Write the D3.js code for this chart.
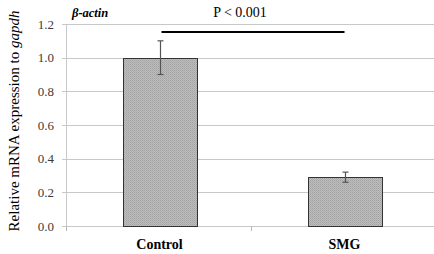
<!DOCTYPE html>
<html lang="en">
<head>
<meta charset="utf-8">
<title>beta-actin relative expression</title>
<script src="https://d3js.org/d3.v7.min.js"></script>
<style>
    body { margin: 0; background: #fff; }
</style>
</head>
<body>
<div id="chart"></div>
<script>
    const categories = ["Control", "SMG"];
    const values = [1.0, 0.29];
    const errors = [0.1, 0.03];
    const yTicks = [0.0, 0.2, 0.4, 0.6, 0.8, 1.0, 1.2];

    const width = 434, height = 254;
    const svg = d3.select("#chart").append("svg")
        .attr("width", width)
        .attr("height", height)
        .attr("font-family", "'Liberation Serif', 'DejaVu Serif', serif");

    // dotted grey texture of the bars
    const pat = svg.append("defs").append("pattern")
        .attr("id", "dots")
        .attr("width", 2).attr("height", 2)
        .attr("patternUnits", "userSpaceOnUse");
    pat.append("rect").attr("width", 2).attr("height", 2).attr("fill", "#bdbdbd");
    pat.append("rect").attr("width", 1).attr("height", 1).attr("fill", "#a2a2a2");
    pat.append("rect").attr("x", 1).attr("y", 1).attr("width", 1).attr("height", 1).attr("fill", "#adadad");

    const x = d3.scaleBand().domain(categories).range([67, 437])
        .paddingInner(0.6).paddingOuter(0.3);
    const y = d3.scaleLinear().domain([0, 1.2]).range([226, 24]);

    // gridlines
    svg.append("g").selectAll("line")
        .data(yTicks)
        .join("line")
        .attr("x1", 62).attr("x2", width)
        .attr("y1", d => Math.round(y(d)) + 0.5)
        .attr("y2", d => Math.round(y(d)) + 0.5)
        .attr("stroke", "#c8c8c8");

    // y axis line
    svg.append("line")
        .attr("x1", 66.5).attr("x2", 66.5)
        .attr("y1", y(1.2)).attr("y2", 230)
        .attr("stroke", "#c8c8c8");

    // x tick marks at category boundaries
    const step = x.step();
    svg.append("g").selectAll("line")
        .data([0, 1, 2])
        .join("line")
        .attr("x1", i => Math.round(67 + i * step) - 0.5)
        .attr("x2", i => Math.round(67 + i * step) - 0.5)
        .attr("y1", y(0)).attr("y2", y(0) + 5)
        .attr("stroke", "#b8b8b8");

    // y tick labels
    svg.append("g").selectAll("text")
        .data(yTicks)
        .join("text")
        .attr("x", 54)
        .attr("y", d => y(d) + 4.5)
        .attr("text-anchor", "end")
        .attr("font-size", 13)
        .attr("fill", "#3a3a3a")
        .text(d => d3.format(".1f")(d));

    // bars
    svg.append("g").selectAll("rect")
        .data(values)
        .join("rect")
        .attr("x", (d, i) => Math.round(x(categories[i])) + 0.5)
        .attr("y", d => Math.round(y(d)) + 0.5)
        .attr("width", Math.round(x.bandwidth()))
        .attr("height", d => Math.round(y(0)) - Math.round(y(d)))
        .attr("fill", "url(#dots)")
        .attr("stroke", "#333")
        .attr("stroke-width", 1);

    // error bars
    const err = svg.append("g").attr("stroke", "#555").attr("stroke-width", 1.2);
    values.forEach((v, i) => {
        const cx = Math.round(x(categories[i]) + x.bandwidth() / 2) + 0.5;
        err.append("line").attr("x1", cx).attr("x2", cx)
            .attr("y1", y(v + errors[i])).attr("y2", y(v - errors[i]));
        [v + errors[i], v - errors[i]].forEach(e => {
            err.append("line").attr("x1", cx - 3).attr("x2", cx + 3)
                .attr("y1", y(e)).attr("y2", y(e));
        });
    });

    // significance bracket
    const c0 = x(categories[0]) + x.bandwidth() / 2;
    const c1 = x(categories[1]) + x.bandwidth() / 2;
    svg.append("line")
        .attr("x1", c0 + 2).attr("x2", c1)
        .attr("y1", 32).attr("y2", 32)
        .attr("stroke", "#000").attr("stroke-width", 2);
    svg.append("text")
        .attr("x", 240).attr("y", 17)
        .attr("text-anchor", "middle")
        .attr("font-size", 14)
        .text("P < 0.001");

    // gene label
    svg.append("text")
        .attr("x", 72).attr("y", 17)
        .attr("font-size", 12.5)
        .attr("font-weight", "bold")
        .attr("font-style", "italic")
        .text("β-actin");

    // x labels
    svg.append("g").selectAll("text")
        .data(categories)
        .join("text")
        .attr("x", d => x(d) + x.bandwidth() / 2)
        .attr("y", 249)
        .attr("text-anchor", "middle")
        .attr("font-size", 14)
        .attr("font-weight", "bold")
        .text(d => d);

    // y axis title
    const yt = svg.append("text")
        .attr("transform", "translate(19,121) rotate(-90)")
        .attr("text-anchor", "middle")
        .attr("font-size", 15);
    yt.append("tspan").text("Relative mRNA expression to ");
    yt.append("tspan").attr("font-style", "italic").text("gapdh");
</script>
</body>
</html>
